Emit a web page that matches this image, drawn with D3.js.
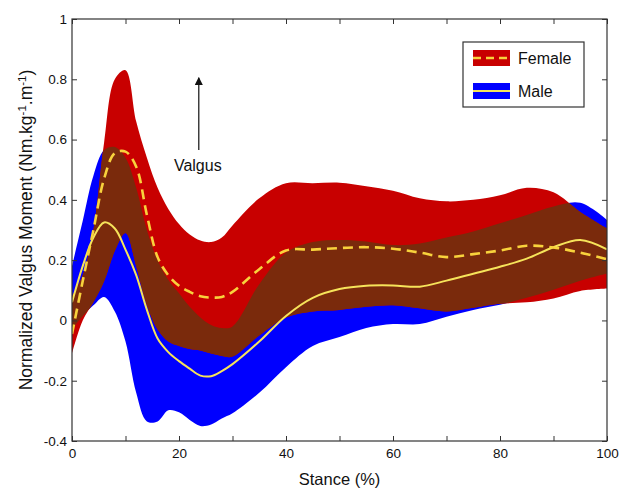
<!DOCTYPE html>
<html>
<head>
<meta charset="utf-8">
<script src="https://cdn.jsdelivr.net/npm/d3@7"></script>
<style>
  body { margin: 0; background: #fff; }
  text { font-family: "Liberation Sans", Arial, sans-serif; fill: #111; }
</style>
</head>
<body>
<svg id="chart"></svg>
<script>
// stance (% of stance phase)
var stance = [0, 2, 4, 6, 8, 10, 12, 14, 16, 18, 20, 22, 24, 26, 28, 30,
              35, 40, 45, 50, 55, 60, 65, 70, 75, 80, 85, 90, 95, 100];

// female: mean and band limits
var femaleMean  = [-0.045, 0.13, 0.30, 0.47, 0.555, 0.56, 0.51, 0.35, 0.21, 0.15, 0.115, 0.095, 0.08, 0.076, 0.078, 0.095,
                   0.17, 0.232, 0.235, 0.24, 0.243, 0.238, 0.225, 0.21, 0.22, 0.232, 0.248, 0.242, 0.225, 0.203];
var femaleUpper = [0.08, 0.15, 0.30, 0.59, 0.80, 0.83, 0.66, 0.54, 0.44, 0.37, 0.32, 0.285, 0.265, 0.26, 0.275, 0.315,
                   0.405, 0.455, 0.455, 0.457, 0.445, 0.43, 0.405, 0.395, 0.40, 0.415, 0.44, 0.425, 0.36, 0.305];
var femaleLower = [-0.11, 0.0, 0.06, 0.13, 0.23, 0.29, 0.18, 0.05, -0.03, -0.07, -0.085, -0.095, -0.10, -0.11, -0.118, -0.12,
                   -0.05, 0.01, 0.03, 0.035, 0.045, 0.05, 0.04, 0.03, 0.042, 0.055, 0.06, 0.073, 0.098, 0.106];

// male: mean and band limits
var maleMean  = [0.06, 0.18, 0.275, 0.325, 0.305, 0.235, 0.15, 0.035, -0.06, -0.105, -0.135, -0.16, -0.183, -0.185, -0.168, -0.145,
                 -0.07, 0.015, 0.075, 0.104, 0.115, 0.116, 0.112, 0.132, 0.155, 0.178, 0.205, 0.243, 0.267, 0.236];
var maleUpper = [0.18, 0.33, 0.48, 0.565, 0.575, 0.54, 0.44, 0.30, 0.20, 0.135, 0.09, 0.045, 0.01, -0.015, -0.025, -0.02,
                 0.12, 0.225, 0.26, 0.267, 0.262, 0.25, 0.255, 0.275, 0.295, 0.322, 0.35, 0.378, 0.39, 0.333];
var maleLower = [-0.03, 0.015, 0.05, 0.078, 0.03, -0.07, -0.24, -0.335, -0.335, -0.298, -0.305, -0.33, -0.35, -0.345, -0.325, -0.308,
                 -0.24, -0.155, -0.085, -0.055, -0.025, -0.012, -0.012, 0.012, 0.035, 0.052, 0.075, 0.102, 0.132, 0.156];

var xTicks = [0, 10, 20, 30, 40, 50, 60, 70, 80, 90, 100];
var yTicks = [-0.4, -0.2, 0, 0.2, 0.4, 0.6, 0.8, 1];

var W = 632, H = 491;
var m = {top: 19, right: 25, bottom: 50, left: 72};
var w = W - m.left - m.right, h = H - m.top - m.bottom;

var svg = d3.select("#chart").attr("width", W).attr("height", H);
var g = svg.append("g").attr("transform", "translate(" + m.left + "," + m.top + ")");

var x = d3.scaleLinear().domain([0, 100]).range([0, w]);
var y = d3.scaleLinear().domain([-0.4, 1]).range([h, 0]);

var female = stance.map(function(s, i) { return {s: s, m: femaleMean[i], lo: femaleLower[i], hi: femaleUpper[i]}; });
var male = stance.map(function(s, i) { return {s: s, m: maleMean[i], lo: maleLower[i], hi: maleUpper[i]}; });

var curve = d3.curveCatmullRom.alpha(0.5);
var band = d3.area().curve(curve)
  .x(function(d) { return x(d.s); })
  .y0(function(d) { return y(d.lo); })
  .y1(function(d) { return y(d.hi); });
var mean = d3.line().curve(curve)
  .x(function(d) { return x(d.s); })
  .y(function(d) { return y(d.m); });

var defs = svg.append("defs");
defs.append("clipPath").attr("id", "plot")
  .append("rect").attr("width", w).attr("height", h);
defs.append("clipPath").attr("id", "femaleBand")
  .append("path").attr("d", band(female));
defs.append("marker")
  .attr("id", "head")
  .attr("viewBox", "0 0 10 10")
  .attr("refX", 9).attr("refY", 5)
  .attr("markerWidth", 8).attr("markerHeight", 8)
  .attr("markerUnits", "userSpaceOnUse")
  .attr("orient", "auto")
  .append("path").attr("d", "M0,0 L10,5 L0,10 Z").attr("fill", "#111");

var plot = g.append("g").attr("clip-path", "url(#plot)");

plot.append("path").attr("d", band(male)).attr("fill", "#0000ff");
plot.append("path").attr("d", band(female)).attr("fill", "#c80000");
// overlap of the two bands
plot.append("g").attr("clip-path", "url(#femaleBand)")
  .append("path").attr("d", band(male)).attr("fill", "#7a2a0c");

plot.append("path").attr("d", mean(male))
  .attr("fill", "none").attr("stroke", "#f6e35a").attr("stroke-width", 2);
plot.append("path").attr("d", mean(female))
  .attr("fill", "none").attr("stroke", "#f8d23c").attr("stroke-width", 2.6)
  .attr("stroke-dasharray", "10,6");

// axes, ticks pointing inwards on all four sides
var fmt = function(d) { return d % 20 === 0 ? d : ""; };
g.append("g").attr("class", "axis").attr("transform", "translate(0," + h + ")")
  .call(d3.axisBottom(x).tickValues(xTicks).tickFormat(fmt).tickSizeInner(-5).tickSizeOuter(0).tickPadding(7));
g.append("g").attr("class", "axis")
  .call(d3.axisTop(x).tickValues(xTicks).tickFormat("").tickSizeInner(-5).tickSizeOuter(0));
g.append("g").attr("class", "axis")
  .call(d3.axisLeft(y).tickValues(yTicks).tickFormat(function(d) { return +d.toFixed(1); })
    .tickSizeInner(-5).tickSizeOuter(0).tickPadding(5));
g.append("g").attr("class", "axis").attr("transform", "translate(" + w + ",0)")
  .call(d3.axisRight(y).tickValues(yTicks).tickFormat("").tickSizeInner(-5).tickSizeOuter(0));
g.selectAll(".axis .domain").remove();
g.selectAll(".axis line").attr("stroke", "#333");
g.selectAll(".axis text").style("font-family", "Liberation Sans, Arial, sans-serif")
  .style("font-size", "13.5px").attr("fill", "#111");

g.append("rect").attr("width", w).attr("height", h)
  .attr("fill", "none").attr("stroke", "#333").attr("stroke-width", 1.2);

// axis titles
g.append("text").attr("x", w / 2).attr("y", h + 44)
  .attr("text-anchor", "middle").style("font-size", "16.5px").text("Stance (%)");

var yl = g.append("text").attr("transform", "translate(" + (-40) + "," + (h / 2) + ") rotate(-90)")
  .attr("text-anchor", "middle").style("font-size", "17.5px");
yl.append("tspan").text("Normalized Valgus Moment (Nm.kg");
yl.append("tspan").attr("dy", -6).style("font-size", "11.5px").text("-1");
yl.append("tspan").attr("dy", 6).text(".m");
yl.append("tspan").attr("dy", -6).style("font-size", "11.5px").text("-1");
yl.append("tspan").attr("dy", 6).text(")");

// valgus arrow
g.append("line")
  .attr("x1", x(23.7)).attr("x2", x(23.7))
  .attr("y1", y(0.565)).attr("y2", y(0.805))
  .attr("stroke", "#111").attr("stroke-width", 1.2)
  .attr("marker-end", "url(#head)");
g.append("text").attr("x", x(23.7) - 1).attr("y", y(0.495))
  .attr("text-anchor", "middle").style("font-size", "16px").text("Valgus");

// legend
var lg = g.append("g").attr("transform", "translate(" + (w - 144) + ",23)");
lg.append("rect").attr("width", 121).attr("height", 65)
  .attr("fill", "#fff").attr("stroke", "#333").attr("stroke-width", 1.2);
lg.append("rect").attr("x", 10).attr("y", 8).attr("width", 37).attr("height", 16).attr("fill", "#c80000");
lg.append("line").attr("x1", 10).attr("x2", 47).attr("y1", 16).attr("y2", 16)
  .attr("stroke", "#f8d23c").attr("stroke-width", 2.6).attr("stroke-dasharray", "8,5");
lg.append("rect").attr("x", 10).attr("y", 41).attr("width", 37).attr("height", 16).attr("fill", "#0000ff");
lg.append("line").attr("x1", 10).attr("x2", 47).attr("y1", 49).attr("y2", 49)
  .attr("stroke", "#f6e35a").attr("stroke-width", 2);
lg.append("text").attr("x", 55).attr("y", 22).style("font-size", "16px").text("Female");
lg.append("text").attr("x", 55).attr("y", 55).style("font-size", "16px").text("Male");
</script>
</body>
</html>
